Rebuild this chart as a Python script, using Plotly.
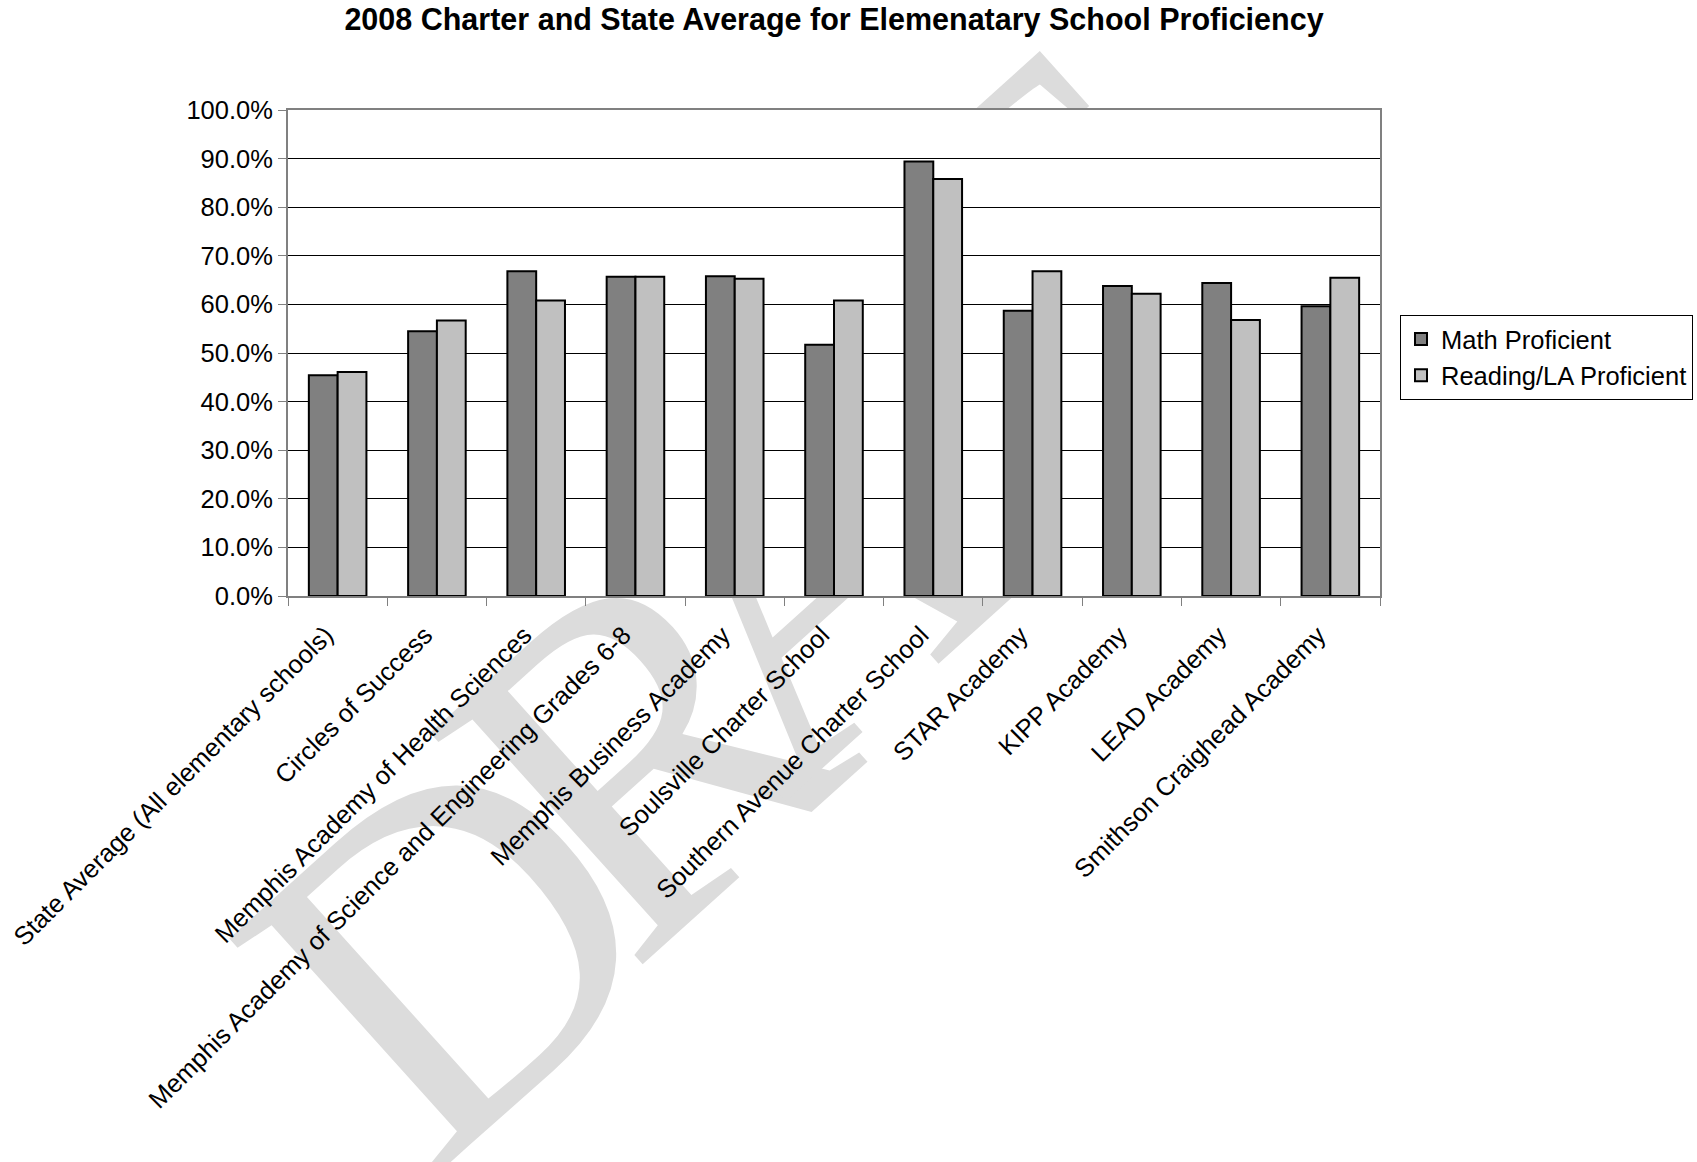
import math
import plotly.graph_objects as go

categories = [
    "State Average (All elementary schools)",
    "Circles of Success",
    "Memphis Academy of Health Sciences",
    "Memphis Academy of Science and Engineering Grades 6-8",
    "Memphis Business Academy",
    "Soulsville Charter School",
    "Southern Avenue Charter School",
    "STAR Academy",
    "KIPP Academy",
    "LEAD Academy",
    "Smithson Craighead Academy",
]
math_proficient = [0.454, 0.545, 0.668, 0.657, 0.658, 0.517, 0.894, 0.587, 0.638, 0.644, 0.596]
reading_proficient = [0.461, 0.567, 0.608, 0.657, 0.653, 0.608, 0.858, 0.668, 0.622, 0.568, 0.655]
series_names = ["Math Proficient", "Reading/LA Proficient"]
y_ticks = [i / 10 for i in range(11)]
title_text = "2008 Charter and State Average for Elemenatary School Proficiency"
watermark_text = "DRAFT"

FONT = "Liberation Sans, Arial, sans-serif"
FS = 25.5
W, H = 1697, 1162
L, R, T, B = 288, 317, 110, 566
PW, PH = W - L - R, H - T - B

fig = go.Figure()
fig.add_trace(go.Bar(x=categories, y=math_proficient, name=series_names[0],
                     marker=dict(color="#808080", line=dict(color="black", width=2))))
fig.add_trace(go.Bar(x=categories, y=reading_proficient, name=series_names[1],
                     marker=dict(color="#C0C0C0", line=dict(color="black", width=2))))

fig.update_layout(
    width=W, height=H, autosize=False,
    margin=dict(l=L, r=R, t=T, b=B, pad=0, autoexpand=False),
    paper_bgcolor="white", plot_bgcolor="white",
    barmode="group", bargap=0.42, bargroupgap=0,
    font=dict(family=FONT, size=FS, color="black"),
    title=dict(text="<b>" + title_text + "</b>", x=0.5, xref="paper", xanchor="center",
               y=1 - 19.5 / H, yref="container", yanchor="middle",
               font=dict(family=FONT, size=30.5, color="black")),
    legend=dict(x=(1400 - L) / PW, y=(H - B - 315) / PH,
                xanchor="left", yanchor="top", bgcolor="white",
                bordercolor="black", borderwidth=1,
                font=dict(family=FONT, size=FS, color="black")),
    showlegend=True,
)
fig.update_xaxes(
    type="category", tickangle=-45, tickson="boundaries",
    ticks="outside", ticklen=8, tickcolor="#808080", tickwidth=1,
    ticklabelstandoff=12, ticklabelshift=-12, automargin=False,
    showline=True, linecolor="#808080", linewidth=2, mirror=True,
    showgrid=False, tickfont=dict(family=FONT, size=FS, color="black"),
)
fig.update_yaxes(
    range=[0, 1], tickvals=y_ticks, tickformat=".1%", automargin=False,
    ticks="outside", ticklen=8, tickcolor="#808080", tickwidth=1,
    showline=True, linecolor="#808080", linewidth=2, mirror=True,
    showgrid=True, gridcolor="black", gridwidth=1,
    tickfont=dict(family=FONT, size=FS, color="black"),
)

# white plot-area panel (drawn inside the subplot, above the watermark)
fig.add_shape(type="rect", xref="x", yref="y", x0=-0.5, x1=len(categories) - 0.5, y0=0, y1=1,
              fillcolor="white", line=dict(width=0), layer="below")

# "DRAFT" watermark behind the chart, one letter at a time (page pixel centres)
wm_size = 480
wm_angle = -42
wm_centres = [(447, 942), (638, 745), (800, 565), (925, 405), (1036, 254)]
ang = math.radians(-wm_angle)
up = (-math.sin(ang), -math.cos(ang))
for letter, (px, py) in zip(watermark_text, wm_centres):
    ax = px + up[0] * 0.10 * wm_size
    ay = py + up[1] * 0.10 * wm_size
    cx, cy = (ax - L) / PW, (H - B - ay) / PH
    fig.add_shape(type="rect", xref="paper", yref="paper", x0=cx - 0.002, x1=cx + 0.002,
                  y0=cy - 0.002, y1=cy + 0.002, fillcolor="rgba(0,0,0,0)",
                  line=dict(width=0), layer="below",
                  label=dict(text=letter, textangle=wm_angle, textposition="middle center",
                             font=dict(family="Liberation Serif, Times New Roman, serif",
                                       size=wm_size, color="#dcdcdc")))

fig.write_html("out.html")
